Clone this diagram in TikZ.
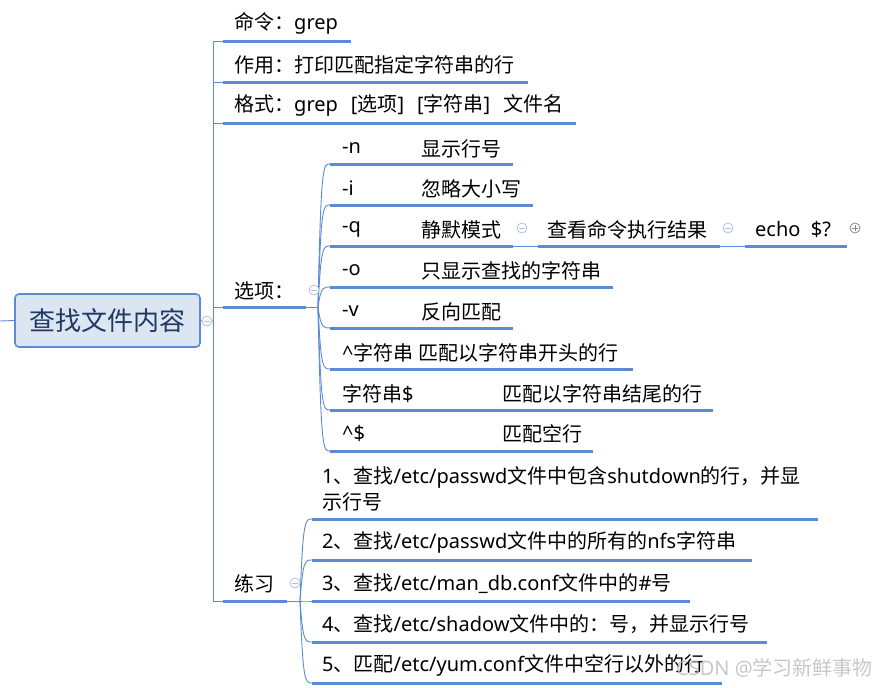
\documentclass[tikz,border=0pt]{standalone}
\usepackage{fontspec}
\setmainfont{Noto Sans CJK SC}
\newfontfamily\latfont{Noto Sans}
\newcommand{\latn}[1]{{\latfont #1}}
\definecolor{ln}{HTML}{5B8BD3}
\definecolor{rootfill}{HTML}{DCE6F2}
\definecolor{roottext}{HTML}{1F3864}
\definecolor{circ}{HTML}{AFC0E0}
\definecolor{pluscol}{HTML}{8A8A8A}
\tikzset{
 txt/.style={anchor=west, inner sep=0pt, font=\fontsize{20pt}{26.5pt}\selectfont},
 uline/.style={draw=ln, line width=3pt},
 conn/.style={draw=ln, line width=0.9pt},
 fold/.style={circle, draw=circ, fill=white, minimum size=10pt, inner sep=0pt, line width=0.8pt,
   path picture={\draw[circ, line width=0.8pt] ([xshift=-2.6pt]path picture bounding box.center) -- ([xshift=2.6pt]path picture bounding box.center);}},
 unfold/.style={circle, draw=pluscol, fill=white, minimum size=10pt, inner sep=0pt, line width=0.8pt,
   path picture={\draw[pluscol, line width=0.8pt] ([xshift=-2.6pt]path picture bounding box.center) -- ([xshift=2.6pt]path picture bounding box.center)
     ([yshift=-2.6pt]path picture bounding box.center) -- ([yshift=2.6pt]path picture bounding box.center);}},
}
\begin{document}
\begin{tikzpicture}[x=1pt,y=-1pt]
\useasboundingbox (0,0) rectangle (879,688);
% root
\node[draw=ln, fill=rootfill, rounded corners=4pt, line width=1.6pt, minimum width=185pt, minimum height=53pt, inner sep=0pt, text=roottext, font=\fontsize{26pt}{30pt}\selectfont] (root) at (107.5,320.5) {查找文件内容};
\coordinate (lstub) at (0,321);
\draw[conn] (lstub) -- (root.west);
% trunk
\coordinate (trTop) at (213,41);
\coordinate (trMid) at (213,321);
\coordinate (trBot) at (213,601);
\draw[conn] (root.east) -- (trMid);
\draw[conn] (trTop) -- (trBot);
% level-1 underlines
\coordinate (u1a) at (223,41);  \coordinate (u1b) at (351,41);
\coordinate (u2a) at (223,82);  \coordinate (u2b) at (528,82);
\coordinate (u3a) at (223,123); \coordinate (u3b) at (576,123);
\coordinate (u4a) at (223,307); \coordinate (u4b) at (306,307);
\coordinate (u5a) at (223,601); \coordinate (u5b) at (287,601);
\coordinate (j2) at (213,82); \coordinate (j3) at (213,123); \coordinate (j4) at (213,307);
\draw[conn] (trTop) -- (u1a);
\draw[conn] (j2) -- (u2a);
\draw[conn] (j3) -- (u3a);
\draw[conn] (j4) -- (u4a);
\draw[conn] (trBot) -- (u5a);
\foreach \a/\b in {u1a/u1b,u2a/u2b,u3a/u3b,u4a/u4b,u5a/u5b} \draw[uline] (\a) -- (\b);
\node[txt] (t1) at (234,23.5) {命令：\latn{grep}};
\node[txt] (t2) at (234,64.5) {作用：打印匹配指定字符串的行};
\node[txt] (t3) at (234,105.5) {格式：\latn{grep}\hspace{13pt}\latn{[}选项\latn{]}\hspace{13pt}\latn{[}字符串\latn{]}\hspace{13pt}文件名};
\node[txt] (t4) at (234,290.5) {选项：};
\node[txt] (t5) at (234,583.5) {练习};
% options fan
\coordinate (opJ) at (318,307);
\draw[conn] (u4b) -- (opJ);
\foreach \n/\y/\e in {1/164/513,2/205/533,3/246/513,4/287/613,5/328/513,6/369/633,7/410/713,8/451/593}{
  \coordinate (oa\n) at (330,\y);
  \coordinate (ob\n) at (\e,\y);
  \draw[conn] (opJ) .. controls (321,\y) and (323,\y) .. (oa\n);
  \draw[uline] (oa\n) -- (ob\n);
}
\node[txt] (o1a) at (342,148.5) {\latn{-n}};
\node[txt] (o1b) at (421,148.5) {显示行号};
\node[txt] (o2a) at (342,188.5) {\latn{-i}};
\node[txt] (o2b) at (421,188.5) {忽略大小写};
\node[txt] (o3a) at (342,229.5) {\latn{-q}};
\node[txt] (o3b) at (421,229.5) {静默模式};
\node[txt] (o4a) at (342,270.5) {\latn{-o}};
\node[txt] (o4b) at (421,270.5) {只显示查找的字符串};
\node[txt] (o5a) at (342,311.5) {\latn{-v}};
\node[txt] (o5b) at (421,311.5) {反向匹配};
\node[txt] (o6) at (342,352.5) {\latn{\textasciicircum}字符串 匹配以字符串开头的行};
\node[txt] (o7a) at (342,393.5) {字符串\latn{\$}};
\node[txt] (o7b) at (502,393.5) {匹配以字符串结尾的行};
\node[txt] (o8a) at (342,433.5) {\latn{\textasciicircum\$}};
\node[txt] (o8b) at (502,433.5) {匹配空行};
% -q chain
\coordinate (q1a) at (538,246); \coordinate (q1b) at (720,246);
\coordinate (q2a) at (745,246); \coordinate (q2b) at (847,246);
\draw[conn] (ob3) -- (q1a);
\draw[conn] (q1b) -- (q2a);
\draw[uline] (q1a) -- (q1b);
\draw[uline] (q2a) -- (q2b);
\node[txt] (o3c) at (547,229.5) {查看命令执行结果};
\node[txt] (o3d) at (755,229.5) {\latn{echo\ \ \$?}};
% exercises fan
\coordinate (exJ) at (300,601);
\draw[conn] (u5b) -- (exJ);
\foreach \n/\y/\e in {1/519/818,2/560/752,3/601/690,4/642/767,5/683/722}{
  \coordinate (ea\n) at (312,\y);
  \coordinate (eb\n) at (\e,\y);
  \draw[conn] (exJ) .. controls (303,\y) and (305,\y) .. (ea\n);
  \draw[uline] (ea\n) -- (eb\n);
}
\node[txt, align=left] (e1) at (322,489) {\latn{1}、查找\latn{/etc/passwd}文件中包含\latn{shutdown}的行，并显\\示行号};
\node[txt] (e2) at (322,542.5) {\latn{2}、查找\latn{/etc/passwd}文件中的所有的\latn{nfs}字符串};
\node[txt] (e3) at (322,583.5) {\latn{3}、查找\latn{/etc/man\_db.conf}文件中的\latn{\#}号};
\node[txt] (e4) at (322,624.5) {\latn{4}、查找\latn{/etc/shadow}文件中的：号，并显示行号};
\node[txt] (e5) at (322,665.5) {\latn{5}、匹配\latn{/etc/yum.conf}文件中空行以外的行};
% fold markers
\node[fold] (f0) at (207,321) {};
\node[fold] (f1) at (314,290) {};
\node[fold] (f2) at (295,583) {};
\node[fold] (f3) at (522,228) {};
\node[fold] (f4) at (728,228) {};
\node[unfold] (f5) at (855,228) {};
% watermark (overlaps the last line, as in the reference)
\node[txt, text=gray!55, opacity=0.8] (wm) at (676,668) {\latn{CSDN @}学习新鲜事物};
\end{tikzpicture}
\end{document}
